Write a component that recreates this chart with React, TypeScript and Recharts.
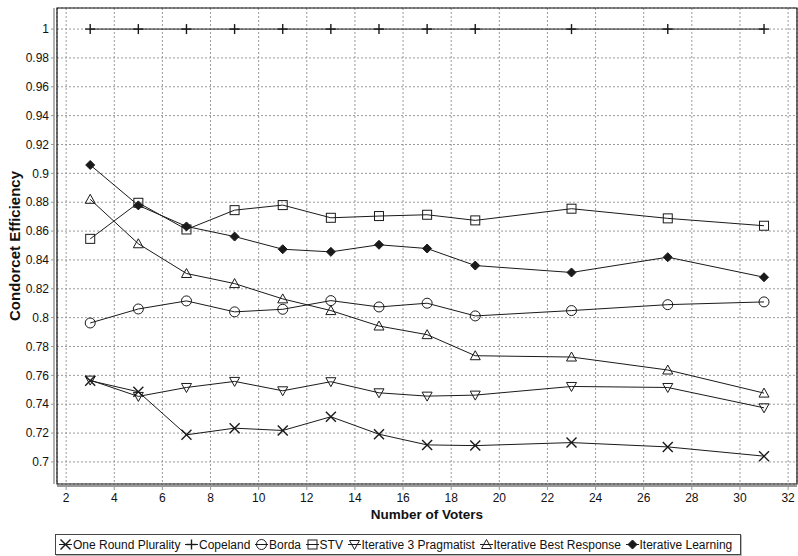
import { LineChart, Line, XAxis, YAxis, CartesianGrid, ReferenceArea } from "recharts";

const voters = [3, 5, 7, 9, 11, 13, 15, 17, 19, 23, 27, 31];

const plurality = [0.7563, 0.7486, 0.7188, 0.7234, 0.7218, 0.7313, 0.7192, 0.7118, 0.7113, 0.7134, 0.7104, 0.704];
const copeland = [1, 1, 1, 1, 1, 1, 1, 1, 1, 1, 1, 1];
const borda = [0.7963, 0.806, 0.8116, 0.804, 0.8058, 0.8118, 0.8074, 0.81, 0.8012, 0.8049, 0.809, 0.8109];
const stv = [0.8546, 0.8796, 0.8611, 0.8745, 0.878, 0.8692, 0.8704, 0.8713, 0.8674, 0.8755, 0.8688, 0.8637];
const pragmatist = [0.7567, 0.7454, 0.7516, 0.7558, 0.7493, 0.7556, 0.7479, 0.7456, 0.7463, 0.7523, 0.7516, 0.7375];
const bestResponse = [0.882, 0.8512, 0.8306, 0.8236, 0.813, 0.8049, 0.7942, 0.7882, 0.7736, 0.7727, 0.7637, 0.7477];
const learning = [0.9058, 0.8778, 0.8632, 0.8562, 0.8474, 0.8456, 0.8505, 0.8479, 0.8361, 0.8313, 0.8419, 0.828];

const xTicks = [2, 4, 6, 8, 10, 12, 14, 16, 18, 20, 22, 24, 26, 28, 30, 32];
const yTicks = [0.7, 0.72, 0.74, 0.76, 0.78, 0.8, 0.82, 0.84, 0.86, 0.88, 0.9, 0.92, 0.94, 0.96, 0.98, 1];
const xDomain = [1.62, 32.37];
const yDomain = [0.6847, 1.0146];

type MarkerKind = "cross" | "plus" | "circle" | "square" | "down" | "up" | "diamond";

const series: { key: string; name: string; values: number[]; marker: MarkerKind }[] = [
  { key: "plurality", name: "One Round Plurality", values: plurality, marker: "cross" },
  { key: "copeland", name: "Copeland", values: copeland, marker: "plus" },
  { key: "borda", name: "Borda", values: borda, marker: "circle" },
  { key: "stv", name: "STV", values: stv, marker: "square" },
  { key: "pragmatist", name: "Iterative 3 Pragmatist", values: pragmatist, marker: "down" },
  { key: "bestResponse", name: "Iterative Best Response", values: bestResponse, marker: "up" },
  { key: "learning", name: "Iterative Learning", values: learning, marker: "diamond" },
];

const rows = voters.map((v, i) => {
  const row: Record<string, number> = { voters: v };
  series.forEach((s) => (row[s.key] = s.values[i]));
  return row;
});

const INK = "#1a1a1a";
const FONT = '"Liberation Sans", Arial, Helvetica, sans-serif';

function Marker({ kind, cx, cy }: { kind: MarkerKind; cx: number; cy: number }) {
  const s = 5;
  const common = { stroke: INK, strokeWidth: 1, fill: "none" };
  switch (kind) {
    case "cross":
      return (
        <g {...common} strokeWidth={1.4}>
          <line x1={cx - s} y1={cy - s} x2={cx + s} y2={cy + s} />
          <line x1={cx - s} y1={cy + s} x2={cx + s} y2={cy - s} />
        </g>
      );
    case "plus":
      return (
        <g {...common} strokeWidth={1.4}>
          <line x1={cx - s} y1={cy} x2={cx + s} y2={cy} />
          <line x1={cx} y1={cy - s} x2={cx} y2={cy + s} />
        </g>
      );
    case "circle":
      return <circle cx={cx} cy={cy} r={5} {...common} />;
    case "square":
      return <rect x={cx - 4.5} y={cy - 4.5} width={9} height={9} {...common} />;
    case "down":
      return <polygon points={`${cx - 5},${cy - 4} ${cx + 5},${cy - 4} ${cx},${cy + 5}`} {...common} />;
    case "up":
      return <polygon points={`${cx - 5},${cy + 4} ${cx + 5},${cy + 4} ${cx},${cy - 5}`} {...common} />;
    case "diamond":
      return <polygon points={`${cx},${cy - 4.5} ${cx + 4.5},${cy} ${cx},${cy + 4.5} ${cx - 4.5},${cy}`} fill={INK} stroke={INK} />;
  }
}

const fmt = (v: number) => String(Number(v.toFixed(2)));

const LegendBox = () => (
  <div
    style={{
      position: "absolute",
      left: 55,
      top: 534,
      height: 19,
      border: "1px solid #444",
      boxShadow: "1px 1px 0 #bbb",
      display: "flex",
      alignItems: "center",
      padding: "0 3px 0 3px",
      fontFamily: FONT,
      fontSize: 12,
      color: "#111",
      whiteSpace: "nowrap",
      background: "#fff",
    }}
  >
    {series.map((s) => (
      <span key={s.key} style={{ display: "inline-flex", alignItems: "center", marginRight: 4.6 }}>
        <svg width={13} height={13} style={{ marginRight: 1 }}>
          <line x1={0} y1={6.5} x2={13} y2={6.5} stroke={INK} strokeWidth={1} />
          <Marker kind={s.marker} cx={6.5} cy={6.5} />
        </svg>
        {s.name}
      </span>
    ))}
  </div>
);

export default function App() {
  return (
    <div style={{ position: "absolute", left: 0, top: 0, width: 798, height: 556, background: "#fff", fontFamily: FONT }}>
      <LineChart width={798} height={556} data={rows} margin={{ top: 8, right: 1, bottom: 42, left: 0 }}>
        <CartesianGrid stroke="#999" strokeDasharray="2 2" />
        <XAxis
          type="number"
          dataKey="voters"
          domain={xDomain}
          ticks={xTicks}
          allowDataOverflow
          height={30}
          tickSize={3}
          tickMargin={6}
          axisLine={{ stroke: "#999", strokeWidth: 2, transform: "translate(0,2)" }}
          tickLine={{ stroke: "#999", transform: "translate(0,3)" }}
          tick={{ fill: "#111", fontSize: 12, fontFamily: FONT }}
          label={{
            content: () => (
              <text x={427} y={519} textAnchor="middle" fontSize={13.5} fontWeight="bold" fill="#111" fontFamily={FONT}>
                Number of Voters
              </text>
            ),
          }}
        />
        <YAxis
          type="number"
          domain={yDomain}
          ticks={yTicks}
          allowDataOverflow
          width={57}
          tickSize={3}
          tickMargin={5}
          tickFormatter={fmt}
          axisLine={{ stroke: "#999", strokeWidth: 1.5, transform: "translate(-3,0)" }}
          tickLine={{ stroke: "#999", transform: "translate(-3,0)" }}
          tick={{ fill: "#111", fontSize: 12, fontFamily: FONT }}
          label={{
            content: () => (
              <text
                x={19.5}
                y={246}
                transform="rotate(-90 19.5 246)"
                textAnchor="middle"
                fontSize={15}
                fontWeight="bold"
                fill="#111"
                fontFamily={FONT}
              >
                Condorcet Efficiency
              </text>
            ),
          }}
        />
        <ReferenceArea
          x1={xDomain[0]}
          x2={xDomain[1]}
          y1={yDomain[0]}
          y2={yDomain[1]}
          stroke="#111"
          strokeWidth={1.2}
          fill="none"
          fillOpacity={0}
        />
        {series.map((s) => (
          <Line
            key={s.key}
            dataKey={s.key}
            name={s.name}
            type="linear"
            stroke={INK}
            strokeWidth={1}
            isAnimationActive={false}
            activeDot={false}
            dot={(p: any) => <Marker key={`${s.key}-${p.index}`} kind={s.marker} cx={p.cx} cy={p.cy} />}
          />
        ))}
      </LineChart>
      <LegendBox />
    </div>
  );
}
